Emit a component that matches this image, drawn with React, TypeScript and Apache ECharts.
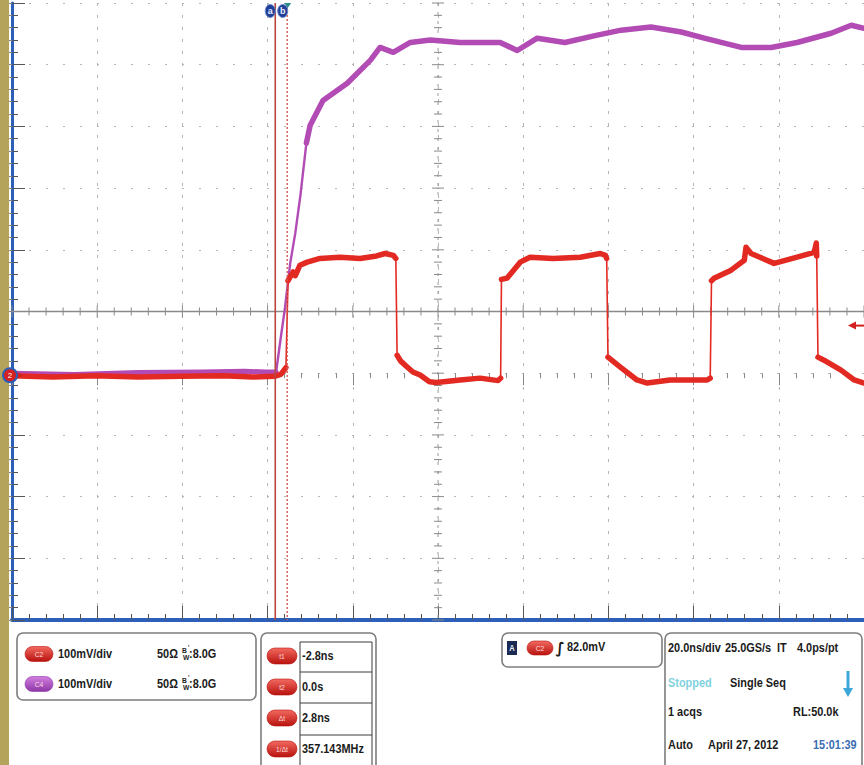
import React, { useEffect, useRef } from "react";
import * as echarts from "echarts";

// ---- scope settings ----
const NS_PER_DIV = 20; // 20.0ns/div, 10 divisions
const T_LEFT = -64.6; // time at left edge (trigger at t = 0)
const MV_MIN = -400; // C2 100mV/div, ground 4 div above bottom
const MV_MAX = 600;
const MV_PER_DIV = 100;

// cursors and trigger
const cursorTimes = [-2.8, 0.0]; // t1, t2 (ns)
const triggerTime = 0.0;
const triggerLevelMv = 82.0;

// ---- C2 (red) trace: plateau segments [t ns, mV] ----
const c2Segments: [number, number][][] = [
  [[-64.6, -4], [-55, -6], [-45, -4], [-35, -6], [-25, -5], [-15, -4], [-8, -6], [-3, -5], [-1.5, -2], [-0.3, 9]],
  [[0.2, 150], [0.7, 156], [1.4, 164], [1.9, 158], [3.0, 175], [4.7, 180], [7.7, 186], [12.4, 188], [17.1, 186], [21, 190], [23, 194], [24.9, 191], [25.5, 186]],
  [[25.8, 29], [26.6, 20], [27.7, 13], [29.5, 2], [31.2, -3], [33.4, -14], [35, -15], [40.6, -11], [45.3, -8], [49.5, -12], [50.1, -8]],
  [[50.3, 152], [51.6, 154], [54.7, 180], [57, 188], [62.4, 186], [68.8, 188], [73.5, 194], [74.7, 191], [75.0, 186]],
  [[75.3, 26], [78.2, 10], [82.1, -11], [84.5, -16], [89.9, -11], [94.6, -11], [98.6, -11], [99.3, -8]],
  [[99.6, 150], [100.2, 154], [104.2, 167], [107.3, 183], [107.7, 204], [108.9, 194], [114.3, 178], [119.7, 188], [123.7, 196], [124.2, 211], [124.3, 190]],
  [[124.6, 26], [126, 21], [130, 5], [133.1, -11], [135.4, -16]],
];

// ---- C4 (magenta) trace ----
const c4Baseline: [number, number][] = [[-64.6, 0], [-50, -2], [-35, 1], [-20, 2], [-10, 3], [-5, 2], [-2.6, 2]];
const c4Rise: [number, number][] = [[-1.6, 53], [-0.5, 107], [0.7, 178], [1.9, 227], [3.1, 288]];
const c4Settle: [number, number][] = [
  [4.5, 373], [5.4, 402], [8.4, 442], [14.1, 470], [19.5, 507], [21.8, 528], [24.9, 520], [28.9, 536], [33.6, 540],
  [40.6, 536], [50, 536], [54, 523], [58.7, 543], [65.2, 536], [72.8, 548], [78.4, 556], [85.4, 561], [92.5, 553],
  [97.9, 543], [106.6, 528], [113.6, 528], [119.7, 536], [127.7, 551], [132.4, 564], [135.4, 559],
];

// ---- readout texts ----
const channelRows = [
  { ch: "C2", scale: "100mV/div", imp: "50Ω", bw: ":8.0G" },
  { ch: "C4", scale: "100mV/div", imp: "50Ω", bw: ":8.0G" },
];
const cursorRows = [
  { tag: "t1", value: "-2.8ns" },
  { tag: "t2", value: "0.0s" },
  { tag: "Δt", value: "2.8ns" },
  { tag: "1/Δt", value: "357.143MHz" },
];
const triggerText = "82.0mV";
const timebaseTexts = ["20.0ns/div", "25.0GS/s", "IT", "4.0ps/pt"];
const statusTexts = ["Stopped", "Single Seq"];
const acqTexts = ["1 acqs", "RL:50.0k"];
const dateTexts = ["Auto", "April 27, 2012", "15:01:39"];

const RED = "#e22a22";
const MAGENTA = "#b34bb5";
const BLUE = "#2b5fb8";
const FONT = '"Liberation Sans", Arial, sans-serif';
const NARROW = 0.84;

const toDiv = (t: number) => (t - T_LEFT) / NS_PER_DIV;
const conv = (pts: [number, number][]) => pts.map(([t, v]) => [toDiv(t), v]);

function lineSeries(data: number[][], color: string, width: number, z: number) {
  return {
    type: "line",
    data,
    showSymbol: false,
    symbol: "none",
    silent: true,
    clip: true,
    z,
    lineStyle: { color, width, cap: "round", join: "round" },
  };
}

function txt(x: number, y: number, text: string, size = 13, color = "#1b1b1b", align = "left", weight = "bold") {
  return {
    type: "text",
    x,
    y,
    scaleX: NARROW,
    silent: true,
    z: 120,
    style: { text, fill: color, fontSize: size, fontWeight: weight, fontFamily: FONT, align, verticalAlign: "middle" },
  };
}

function pill(cx: number, cy: number, w: number, h: number, label: string, top: string, bottom: string) {
  return {
    type: "group",
    z: 120,
    children: [
      {
        type: "rect",
        z: 120,
        shape: { x: cx - w / 2, y: cy - h / 2, width: w, height: h, r: h / 2 },
        style: {
          fill: new echarts.graphic.LinearGradient(0, 0, 0, 1, [
            { offset: 0, color: top },
            { offset: 1, color: bottom },
          ]),
          stroke: bottom,
          lineWidth: 0.6,
        },
      },
      {
        type: "text",
        z: 121,
        x: cx,
        y: cy,
        scaleX: NARROW,
        style: { text: label, fill: "#ffdede", fontSize: 8, fontFamily: FONT, align: "center", verticalAlign: "middle" },
      },
    ],
  };
}

function panel(x: number, y: number, w: number, h: number) {
  return {
    type: "rect",
    z: 110,
    shape: { x, y, width: w, height: h, r: 6 },
    style: { fill: "#ffffff", stroke: "#7d7d7d", lineWidth: 1.6 },
  };
}

export default function App() {
  const ref = useRef<HTMLDivElement>(null);

  useEffect(() => {
    const el = ref.current!;
    const chart = echarts.init(el, null, { renderer: "svg" });

    const series: any[] = [];
    series.push(lineSeries(conv([...c4Baseline, ...c4Rise, ...c4Settle]), MAGENTA, 2.4, 2));
    series.push(lineSeries(conv(c4Baseline), MAGENTA, 5, 3));
    series.push(lineSeries(conv(c4Settle), MAGENTA, 5.5, 3));
    series.push(lineSeries(conv(c2Segments.flat() as [number, number][]), RED, 1.6, 4));
    c2Segments.forEach((seg) => series.push(lineSeries(conv(seg), RED, 5.5, 5)));

    const tickStyle = { color: "#555", width: 1 };
    chart.setOption({
      animation: false,
      backgroundColor: "#ffffff",
      grid: { left: 12, top: 3, width: 853, height: 617, show: false },
      xAxis: [
        {
          type: "value",
          min: 0,
          max: 10,
          interval: 1,
          position: "bottom",
          axisLine: { show: true, onZero: false, lineStyle: { color: BLUE, width: 4 } },
          axisTick: { show: true, inside: true, length: 14, lineStyle: tickStyle },
          minorTick: { show: true, splitNumber: 5, length: 6, lineStyle: tickStyle },
          axisLabel: { show: false },
          splitLine: { show: true, lineStyle: { color: "#b5b5b5", width: 1, type: [3, 9] } },
        },
        {
          type: "value",
          min: 0,
          max: 10,
          interval: 1,
          position: "top",
          axisLine: { show: false },
          axisTick: { show: true, inside: true, length: 12, lineStyle: { color: "#888", width: 1 } },
          minorTick: { show: true, splitNumber: 5, length: 5, lineStyle: { color: "#888", width: 1 } },
          axisLabel: { show: false },
          splitLine: { show: false },
        },
      ],
      yAxis: [
        {
          type: "value",
          min: MV_MIN,
          max: MV_MAX,
          interval: MV_PER_DIV,
          position: "left",
          axisLine: { show: true, onZero: false, lineStyle: { color: BLUE, width: 3 } },
          axisTick: { show: true, inside: true, length: 13, lineStyle: tickStyle },
          minorTick: { show: true, splitNumber: 5, length: 6, lineStyle: tickStyle },
          axisLabel: { show: false },
          splitLine: { show: true, lineStyle: { color: "#b5b5b5", width: 1.2, type: [2, 15] } },
        },
        {
          type: "value",
          min: MV_MIN,
          max: MV_MAX,
          interval: MV_PER_DIV,
          position: "right",
          axisLine: { show: false },
          axisTick: { show: true, inside: true, length: 10, lineStyle: { color: "#888", width: 1 } },
          minorTick: { show: true, splitNumber: 5, length: 5, lineStyle: { color: "#888", width: 1 } },
          axisLabel: { show: false },
          splitLine: { show: false },
        },
      ],
      series,
    });

    const D = (div: number, mv: number) => chart.convertToPixel({ gridIndex: 0 }, [div, mv]) as number[];
    const P = (t: number, mv: number) => D(toDiv(t), mv);
    const topY = D(0, MV_MAX)[1];
    const botY = D(0, MV_MIN)[1];
    const midMv = (MV_MIN + MV_MAX) / 2;
    const midY = D(0, midMv)[1];
    const midX = D(5, 0)[0];

    const g: any[] = [];
    // khaki frame strip
    g.push({ type: "rect", z: 90, shape: { x: 0, y: 0, width: 9, height: 765 }, style: { fill: "#b3a35b" } });

    // centre cross with ticks
    g.push({
      type: "line",
      z: 1,
      silent: true,
      shape: { x1: D(0, midMv)[0], y1: midY, x2: D(10, midMv)[0], y2: midY },
      style: { stroke: "#8a8a8a", lineWidth: 1.3 },
    });
    for (let k = 0; k <= 50; k++) {
      const x = D(k / 5, midMv)[0];
      const len = k % 5 === 0 ? 6 : 4;
      g.push({ type: "line", z: 1, silent: true, shape: { x1: x, y1: midY - len, x2: x, y2: midY + len }, style: { stroke: "#8a8a8a", lineWidth: 1 } });
    }
    g.push({
      type: "line",
      z: 1,
      silent: true,
      shape: { x1: midX, y1: topY, x2: midX, y2: botY },
      style: { stroke: "#9a9a9a", lineWidth: 1, lineDash: [3, 6] },
    });
    for (let k = 0; k <= 50; k++) {
      const y = D(5, MV_MIN + (k * MV_PER_DIV) / 5)[1];
      const len = k % 5 === 0 ? 6 : 4;
      g.push({ type: "line", z: 1, silent: true, shape: { x1: midX - len, y1: y, x2: midX + len, y2: y }, style: { stroke: "#8a8a8a", lineWidth: 1 } });
    }

    // cursors
    const xA = P(cursorTimes[0], 0)[0];
    const xB = P(cursorTimes[1], 0)[0];
    g.push({ type: "line", z: 50, silent: true, shape: { x1: xA, y1: topY, x2: xA, y2: botY }, style: { stroke: "#b8463e", lineWidth: 1.6 } });
    g.push({ type: "line", z: 50, silent: true, shape: { x1: xB, y1: topY, x2: xB, y2: botY }, style: { stroke: "#cf5c55", lineWidth: 1.4, lineDash: [2, 2] } });
    [
      { x: xA - 5, l: "a" },
      { x: xB - 4.5, l: "b" },
    ].forEach((m) => {
      g.push({ type: "ellipse", z: 60, shape: { cx: m.x, cy: topY + 8, rx: 5, ry: 6.5 }, style: { fill: "#1f3f96", stroke: "#6b86cf", lineWidth: 1 } });
      g.push({ type: "text", z: 61, x: m.x, y: topY + 8, style: { text: m.l, fill: "#e6ecff", fontSize: 9, fontWeight: "bold", fontFamily: FONT, align: "center", verticalAlign: "middle" } });
    });
    // trigger position marker
    const xT = P(triggerTime, 0)[0];
    g.push({ type: "polygon", z: 62, shape: { points: [[xT - 3, topY], [xT + 4, topY], [xT + 0.5, topY + 5]] }, style: { fill: "#2a8c8c" } });

    // ground marker for C2
    const yG = P(0, 0)[1] + 2;
    g.push({ type: "polygon", z: 95, shape: { points: [[16, yG - 4], [23, yG], [16, yG + 4]] }, style: { fill: "#d42020" } });
    g.push({ type: "circle", z: 96, shape: { cx: 10, cy: yG, r: 8 }, style: { fill: BLUE } });
    g.push({ type: "circle", z: 97, shape: { cx: 10, cy: yG, r: 6 }, style: { fill: "#d42020" } });
    g.push({ type: "text", z: 98, x: 10, y: yG, style: { text: "2", fill: "#fff", fontSize: 8, fontFamily: FONT, align: "center", verticalAlign: "middle" } });

    // trigger level arrow
    const yL = P(0, triggerLevelMv)[1] + 3;
    g.push({ type: "line", z: 95, shape: { x1: 854, y1: yL, x2: 866, y2: yL }, style: { stroke: "#d42020", lineWidth: 2 } });
    g.push({ type: "polygon", z: 95, shape: { points: [[848, yL], [856, yL - 4], [856, yL + 4]] }, style: { fill: "#d42020" } });

    // ---- readout panels ----
    g.push(panel(17, 633, 239, 67));
    channelRows.forEach((r, i) => {
      const cy = 654 + i * 30;
      const purple = r.ch === "C4";
      g.push(pill(39, cy, 28, 15, r.ch, purple ? "#d27fe0" : "#f26a60", purple ? "#8d36a6" : "#b8120e"));
      g.push(txt(58, cy, r.scale));
      g.push(txt(157, cy, r.imp));
      g.push(txt(182, cy - 4, "B", 8));
      g.push(txt(188, cy - 7, "'", 7));
      g.push(txt(183, cy + 3, "W", 8));
      g.push(txt(189, cy, r.bw));
    });

    g.push(panel(261, 633, 115, 160));
    g.push({ type: "rect", z: 115, shape: { x: 300, y: 642, width: 72, height: 140 }, style: { fill: "#fff", stroke: "#3a3a3a", lineWidth: 1 } });
    [672, 703, 735].forEach((y) =>
      g.push({ type: "line", z: 116, shape: { x1: 300, y1: y, x2: 372, y2: y }, style: { stroke: "#3a3a3a", lineWidth: 1 } })
    );
    cursorRows.forEach((r, i) => {
      const cy = 656 + i * 31;
      g.push(pill(282, cy, 30, 16, r.tag, "#f26a60", "#b8120e"));
      g.push(txt(302, cy, r.value));
    });

    g.push(panel(502, 633, 160, 34));
    g.push({ type: "rect", z: 120, shape: { x: 507, y: 641, width: 10, height: 14 }, style: { fill: "#1b2a52" } });
    g.push(txt(512, 648, "A", 9, "#e8eefc", "center"));
    g.push(pill(540, 648, 26, 14, "C2", "#f26a60", "#b8120e"));
    g.push({
      type: "text",
      z: 120,
      x: 560,
      y: 648,
      style: { text: "∫", fill: "#1b1b1b", fontSize: 15, fontWeight: "bold", fontFamily: "DejaVu Sans", align: "center", verticalAlign: "middle" },
    });
    g.push(txt(567, 647, triggerText));

    g.push(panel(665, 633, 197, 160));
    g.push(txt(668, 648, timebaseTexts[0]));
    g.push(txt(725, 648, timebaseTexts[1]));
    g.push(txt(777, 648, timebaseTexts[2]));
    g.push(txt(797, 648, timebaseTexts[3]));
    g.push(txt(668, 683, statusTexts[0], 13, "#7fd2de"));
    g.push(txt(730, 683, statusTexts[1]));
    g.push({ type: "line", z: 120, shape: { x1: 848, y1: 671, x2: 848, y2: 690 }, style: { stroke: "#3ba6d8", lineWidth: 3 } });
    g.push({ type: "polygon", z: 120, shape: { points: [[843, 688], [853, 688], [848, 697]] }, style: { fill: "#3ba6d8" } });
    g.push(txt(668, 712, acqTexts[0]));
    g.push(txt(793, 712, acqTexts[1]));
    g.push(txt(668, 745, dateTexts[0]));
    g.push(txt(708, 745, dateTexts[1]));
    g.push(txt(813, 745, dateTexts[2], 13, "#3b6db2"));

    chart.setOption({ graphic: g });

    return () => chart.dispose();
  }, []);

  return <div ref={ref} style={{ position: "fixed", left: 0, top: 0, width: 864, height: 765, background: "#fff" }} />;
}
